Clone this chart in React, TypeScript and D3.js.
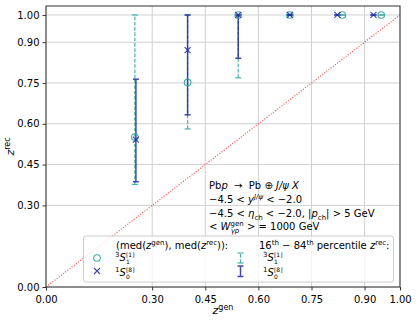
import React, { useEffect, useRef } from 'react'
import * as d3 from 'd3'

// medians (z_gen, z_rec) and 16th-84th percentile of z_rec
const zGen3S1 = [0.251, 0.4, 0.543, 0.689, 0.837, 0.947]
const zRec3S1 = [0.551, 0.752, 1.0, 1.0, 1.0, 1.0]
const lo3S1 = [0.377, 0.581, 0.769, 1.0, 1.0, 1.0]
const hi3S1 = [1.0, 1.0, 1.0, 1.0, 1.0, 1.0]

const zGen1S0 = [0.254, 0.4, 0.543, 0.689, 0.823, 0.925]
const zRec1S0 = [0.542, 0.871, 1.0, 1.0, 1.0, 1.0]
const lo1S0 = [0.387, 0.633, 0.841, 1.0, 1.0, 1.0]
const hi1S0 = [0.764, 1.0, 1.0, 1.0, 1.0, 1.0]

const xTicks = [0, 0.3, 0.45, 0.6, 0.75, 0.9, 1.0]
const yTicks = [0, 0.3, 0.45, 0.6, 0.75, 0.9, 1.0]

const TEAL = '#2ba5a0'
const NAVY = '#1f2a9c'
const FONT = 'DejaVu Sans'
const SP = '\u00a0'

const W = 416
const H = 321
const left = 46, right = 400, top = 6, bottom = 287

const x = d3.scaleLinear().domain([0, 1]).range([left, right])
const y = d3.scaleLinear().domain([0, 1.033]).range([bottom, top])

const ErrBar = ({ cx, y0, y1, color, dashed, width }) => (
    <g stroke={color} strokeWidth={width} opacity={0.85}>
        <line x1={cx} x2={cx} y1={y0} y2={y1} strokeDasharray={dashed ? '3.7,1.6' : null} />
        <line x1={cx - 3} x2={cx + 3} y1={y0} y2={y0} />
        <line x1={cx - 3} x2={cx + 3} y1={y1} y2={y1} />
    </g>
)

const Cross = ({ cx, cy, color }) => (
    <g stroke={color} strokeWidth={1.1} opacity={0.85}>
        <line x1={cx - 3} x2={cx + 3} y1={cy - 3} y2={cy + 3} />
        <line x1={cx - 3} x2={cx + 3} y1={cy + 3} y2={cy - 3} />
    </g>
)

const Circle = ({ cx, cy, color }) => (
    <circle cx={cx} cy={cy} r={3.3} fill="none" stroke={color} strokeWidth={1.1} opacity={0.9} />
)

// ^{a}S_{b}^{[c]}
const State = ({ tx, ty, pre, sub, sup }) => (
    <g fontFamily={FONT}>
        <text x={tx} y={ty - 4} fontSize={7}>{pre}</text>
        <text x={tx + 4.5} y={ty} fontSize={10} fontStyle="italic">S</text>
        <text x={tx + 11} y={ty + 2.5} fontSize={6}>{sub}</text>
        <text x={tx + 11} y={ty - 4.5} fontSize={6}>{sup}</text>
    </g>
)

const App = () => {
    const xRef = useRef()
    const yRef = useRef()

    useEffect(() => {
        const xAxis = d3.axisBottom(x).tickValues(xTicks).tickFormat(d3.format('.2f')).tickSize(3.5).tickSizeOuter(0)
        const yAxis = d3.axisLeft(y).tickValues(yTicks).tickFormat(d3.format('.2f')).tickSize(3.5).tickSizeOuter(0)
        const gx = d3.select(xRef.current).call(xAxis)
        const gy = d3.select(yRef.current).call(yAxis)
        for (const g of [gx, gy]) {
            g.select('.domain').remove()
            g.selectAll('text').attr('font-family', FONT).attr('font-size', 10).attr('fill', '#000')
            g.selectAll('line').attr('stroke', '#333')
        }
        gx.selectAll('text').attr('dy', '0.95em')
    }, [])

    return (
        <svg width={W} height={H} style={{ position: 'fixed', left: 0, top: 0, background: '#fff' }}>
            {/* grid */}
            <g stroke="#d0d0d0" strokeWidth={1}>
                {xTicks.map(t => <line key={'gx' + t} x1={x(t)} x2={x(t)} y1={top} y2={bottom} />)}
                {yTicks.map(t => <line key={'gy' + t} x1={left} x2={right} y1={y(t)} y2={y(t)} />)}
            </g>

            {/* z_rec = z_gen */}
            <line x1={x(0)} y1={y(0)} x2={x(1)} y2={y(1)} stroke="#ff2020" strokeWidth={1.1}
                strokeDasharray="1.1,1.6" opacity={0.8} />

            {/* percentile bars */}
            {zGen3S1.map((g, i) => (
                <ErrBar key={'e3' + i} cx={x(g)} y0={y(lo3S1[i])} y1={y(hi3S1[i])} color={TEAL} dashed width={1.2} />
            ))}
            {zGen1S0.map((g, i) => (
                <ErrBar key={'e1' + i} cx={x(g)} y0={y(lo1S0[i])} y1={y(hi1S0[i])} color={NAVY} width={1.5} />
            ))}

            {/* medians */}
            {zGen3S1.map((g, i) => <Circle key={'c' + i} cx={x(g)} cy={y(zRec3S1[i])} color={TEAL} />)}
            {zGen1S0.map((g, i) => <Cross key={'x' + i} cx={x(g)} cy={y(zRec1S0[i])} color={NAVY} />)}

            {/* frame */}
            <rect x={left} y={top} width={right - left} height={bottom - top} fill="none" stroke="#333" strokeWidth={1} />

            <g ref={xRef} transform={`translate(0,${bottom})`} />
            <g ref={yRef} transform={`translate(${left},0)`} />

            {/* axis labels */}
            <text x={223} y={314} textAnchor="middle" fontFamily={FONT} fontSize={11}>
                <tspan fontStyle="italic">z</tspan>
                <tspan fontSize={8} dy={-4.5}>gen</tspan>
            </text>
            <text transform={`translate(14,${(top + bottom) / 2}) rotate(-90)`} textAnchor="middle" fontFamily={FONT} fontSize={11}>
                <tspan fontStyle="italic">z</tspan>
                <tspan fontSize={8} dy={-4.5}>rec</tspan>
            </text>

            {/* annotation */}
            <g fontFamily={FONT} fontSize={10}>
                <text x={209} y={189}>
                    Pb<tspan fontStyle="italic">p</tspan>{SP + SP + '→' + SP + SP}Pb ⊕ <tspan fontStyle="italic">J/ψ X</tspan>
                </text>
                <text x={209} y={203}>
                    −4.5 &lt; <tspan fontStyle="italic">y</tspan>
                    <tspan fontSize={7} dy={-4} fontStyle="italic">J/ψ</tspan>
                    <tspan dy={4}> &lt; −2.0</tspan>
                </text>
                <text x={209} y={217}>
                    −4.5 &lt; <tspan fontStyle="italic">η</tspan>
                    <tspan fontSize={7} dy={2.5}>ch</tspan>
                    <tspan dy={-2.5}> &lt; −2.0, |</tspan>
                    <tspan fontStyle="italic">p</tspan>
                    <tspan fontSize={7} dy={2.5}>ch</tspan>
                    <tspan dy={-2.5}>| &gt; 5 GeV</tspan>
                </text>
                <text x={209} y={230}>
                    &lt; <tspan fontStyle="italic">W</tspan>
                    <tspan fontSize={7} dy={-4.5}>gen</tspan>
                    <tspan fontSize={7} fontStyle="italic" dx={-13} dy={7.5}>γp</tspan>
                    <tspan dx={4.5} dy={-3}> &gt; = 1000 GeV</tspan>
                </text>
            </g>

            {/* legend */}
            <rect x={83.5} y={236} width={310} height={46} rx={2.5} fill="#fff" fillOpacity={0.8} stroke="#cccccc" strokeWidth={1} />
            <g fontFamily={FONT} fontSize={10}>
                <text x={116} y={249}>
                    (med(<tspan fontStyle="italic">z</tspan>
                    <tspan fontSize={7} dy={-4}>gen</tspan>
                    <tspan dy={4}>), med(</tspan>
                    <tspan fontStyle="italic">z</tspan>
                    <tspan fontSize={7} dy={-4}>rec</tspan>
                    <tspan dy={4}>)):</tspan>
                </text>
                <text x={259} y={249}>
                    16<tspan fontSize={7} dy={-4}>th</tspan>
                    <tspan dy={4}> − 84</tspan>
                    <tspan fontSize={7} dy={-4}>th</tspan>
                    <tspan dy={4}> percentile </tspan>
                    <tspan fontStyle="italic">z</tspan>
                    <tspan fontSize={7} dy={-4}>rec</tspan>
                    <tspan dy={4}>:</tspan>
                </text>
            </g>
            <Circle cx={97} cy={258} color={TEAL} />
            <Cross cx={97} cy={271} color={NAVY} />
            <State tx={115} ty={261} pre="3" sub="1" sup="[1]" />
            <State tx={115} ty={276} pre="1" sub="0" sup="[8]" />
            <ErrBar cx={240.5} y0={263} y1={253} color={TEAL} dashed width={1.2} />
            <ErrBar cx={240.5} y0={276.5} y1={266} color={NAVY} width={1.5} />
            <State tx={263} ty={261} pre="3" sub="1" sup="[1]" />
            <State tx={263} ty={276} pre="1" sub="0" sup="[8]" />
        </svg>
    )
}

export default App
